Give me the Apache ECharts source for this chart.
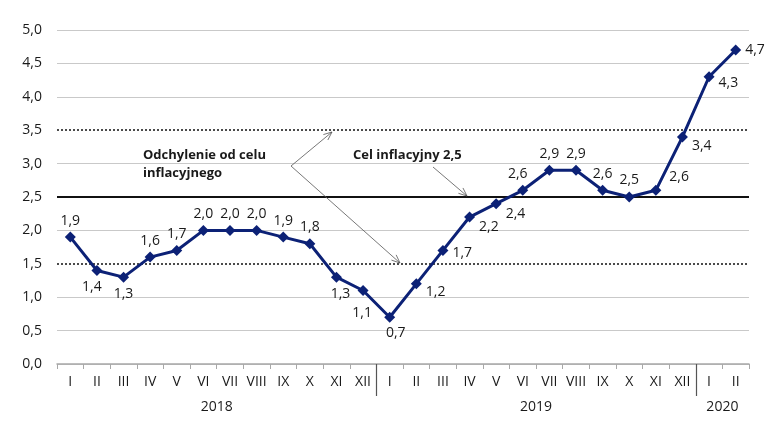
<!DOCTYPE html>
<html>
<head>
<meta charset="utf-8">
<script src="https://cdn.jsdelivr.net/npm/echarts@6/dist/echarts.min.js"></script>
<style>html,body{margin:0;padding:0;background:#fff}#c{width:783px;height:439px}</style>
</head>
<body>
<div id="c"></div>
<script>
const months = ['I','II','III','IV','V','VI','VII','VIII','IX','X','XI','XII',
                'I','II','III','IV','V','VI','VII','VIII','IX','X','XI','XII',
                'I','II'];
const years = ['2018','2019','2020'];
const inflation = [1.9,1.4,1.3,1.6,1.7,2.0,2.0,2.0,1.9,1.8,1.3,1.1,
                   0.7,1.2,1.7,2.2,2.4,2.6,2.9,2.9,2.6,2.5,2.6,3.4,
                   4.3,4.7];
const target = 2.5;
const bandLow = 1.5;
const bandHigh = 3.5;
const yTicks = [0,0.5,1,1.5,2,2.5,3,3.5,4,4.5,5];

(function(){
const FONT = '"Open Sans", "Noto Sans", sans-serif';
const TXT = '#1a1a1a';
const NAVY = '#0c2176';

// label placement per point (style only)
const place = [
  ['top',[0,0]],['bottom',[-5,0]],['bottom',[0,0]],['top',[0,0]],['top',[0,0]],
  ['top',[0,0]],['top',[0,0]],['top',[0,0]],['top',[0,0]],['top',[0,0]],
  ['bottom',[4,0]],['bottom',[-1,6]],['bottom',[6,-1]],['right',[0,8]],['right',[0,3]],
  ['right',[0,10]],['right',[0,10]],['top',[-5,0]],['top',[0,0]],['top',[0,0]],
  ['top',[0,0]],['top',[0,0]],['right',[4,-13]],['right',[0,9]],['right',[0,6]],
  ['right',[0,0]]
];

const seriesData = inflation.map((v,i)=>({
  value: v,
  label: {position: place[i][0], offset: place[i][1]}
}));

const splitColors = yTicks.map(t => (t===bandLow||t===bandHigh||t===target) ? 'rgba(0,0,0,0)' : '#c9c9c9');

const chart = echarts.init(document.getElementById('c'));
const gL = 57, gR = 34, gT = 30, gB = 75;
const W = 783, H = 439;
const plotW = W - gL - gR;
const cw = plotW / months.length;
const yBase = H - gB;

function arrowHead(x1,y1,x2,y2){
  const a = Math.atan2(y2-y1, x2-x1);
  const L = 9, s = 0.4;
  return [[x2 - L*Math.cos(a - s), y2 - L*Math.sin(a - s)],[x2,y2],[x2 - L*Math.cos(a + s), y2 - L*Math.sin(a + s)]];
}
const arrows = [
  [291,166,332,132],
  [291,166,400,263],
  [433,167,467,196]
];
const graphics = [];
arrows.forEach(a=>{
  graphics.push({type:'line', shape:{x1:a[0],y1:a[1],x2:a[2],y2:a[3]}, style:{stroke:'#555',lineWidth:0.8}, z:50});
  graphics.push({type:'polyline', shape:{points:arrowHead(a[0],a[1],a[2],a[3])}, style:{stroke:'#555',lineWidth:0.8, fill:null}, z:50});
});
[12,24].forEach(i=>{
  const x = Math.round(gL + i*cw) + 0.5;
  graphics.push({type:'line', shape:{x1:x,y1:yBase,x2:x,y2:yBase+32}, style:{stroke:'#555',lineWidth:1.2}, z:50});
});
const yearSpans = [[0,12],[12,24],[24,26]];
years.forEach((y,i)=>{
  const cx = gL + (yearSpans[i][0]+yearSpans[i][1])/2*cw;
  graphics.push({type:'text', x:cx, y:yBase+43, style:{text:y, font:'14px '+FONT, fill:TXT, align:'center', verticalAlign:'middle'}, z:50});
});
graphics.push({type:'text', x:143, y:164, style:{text:'Odchylenie od celu\ninflacyjnego', font:'bold 13px '+FONT, fill:TXT, align:'left', verticalAlign:'middle', lineHeight:18}, z:50});
graphics.push({type:'text', x:353, y:155, style:{text:'Cel inflacyjny 2,5', font:'bold 13px '+FONT, fill:TXT, align:'left', verticalAlign:'middle'}, z:50});

chart.setOption({
  animation:false,
  backgroundColor:'#fff',
  grid:{left:gL, right:gR, top:gT, bottom:gB, containLabel:false},
  xAxis:{
    type:'category', data:months, boundaryGap:true,
    axisLine:{lineStyle:{color:'#a8a8a8', width:1.5}},
    axisTick:{show:true, length:5, lineStyle:{color:'#a8a8a8'}},
    axisLabel:{color:TXT, fontSize:14, fontFamily:FONT, margin:11, interval:0}
  },
  yAxis:{
    type:'value', min:0, max:5, interval:0.5,
    axisLine:{show:false}, axisTick:{show:false},
    axisLabel:{color:TXT, fontSize:14, fontFamily:FONT, margin:15,
      formatter: v => v.toFixed(1).replace('.', ',')},
    splitLine:{show:true, lineStyle:{color:splitColors, width:1}}
  },
  series:[{
    type:'line', data:seriesData,
    symbol:'diamond', symbolSize:11,
    lineStyle:{color:NAVY, width:3},
    itemStyle:{color:NAVY},
    label:{show:true, color:TXT, fontSize:14, fontFamily:FONT, distance:4,
      formatter: p => p.value.toFixed(1).replace('.', ',')},
    z:10,
    markLine:{
      silent:true, symbol:['none','none'], label:{show:false},
      data:[
        {yAxis:bandHigh, lineStyle:{type:[2,2], color:'#111', width:1.5}},
        {yAxis:bandLow, lineStyle:{type:[2,2], color:'#111', width:1.5}},
        {yAxis:target, lineStyle:{type:'solid', color:'#111', width:2}}
      ],
      z:2
    }
  }],
  graphic:graphics
});
})();
</script>
</body>
</html>
